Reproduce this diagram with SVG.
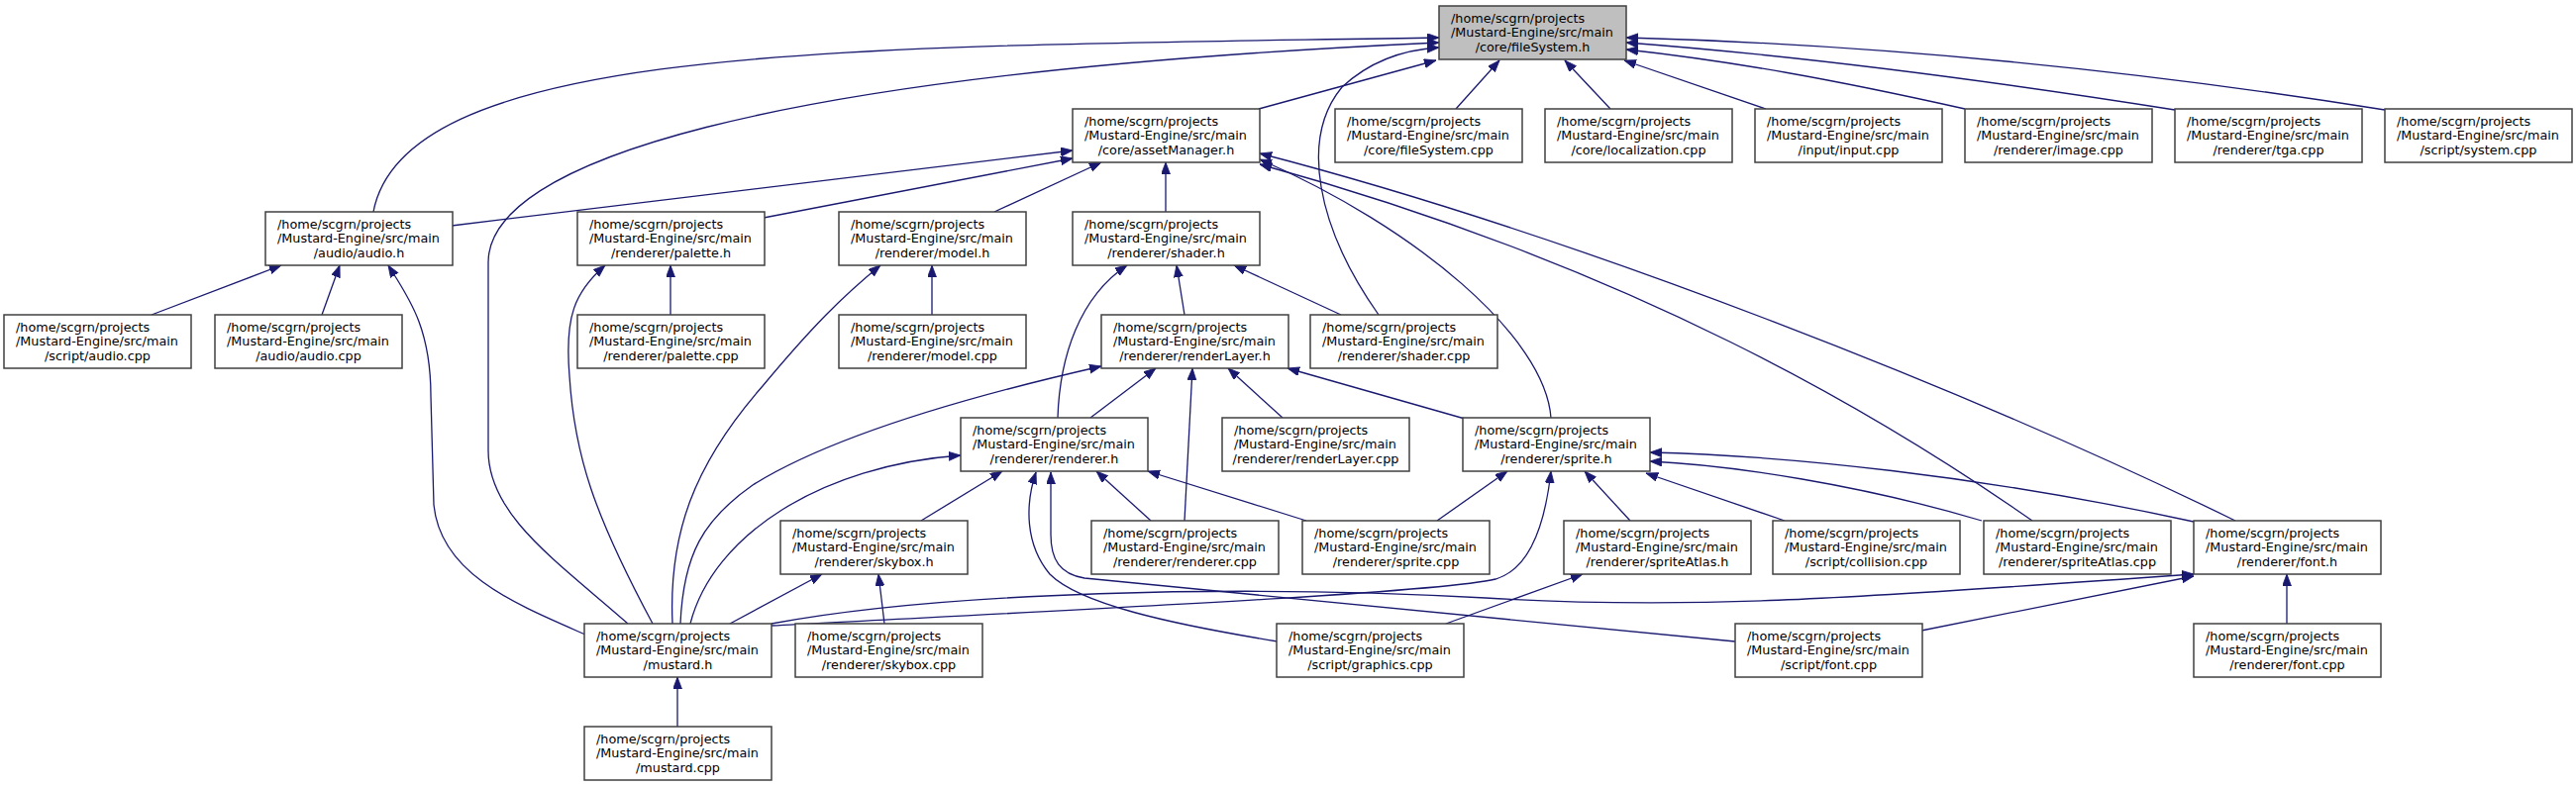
<svg xmlns="http://www.w3.org/2000/svg" width="2601" height="795" viewBox="0 0 2601 795">
<defs>
<marker id="a" markerUnits="userSpaceOnUse" markerWidth="13" markerHeight="10" refX="12" refY="4.5" orient="auto">
<path d="M0,0 L12,4.5 L0,9 z" fill="#191970" stroke="#191970" stroke-width="0.8"/>
</marker>
</defs>
<style>
.n rect{fill:#ffffff;stroke:#404040;stroke-width:1.5}
.n.h rect{fill:#bfbfbf}
.n text{font-family:"DejaVu Sans","Liberation Sans",sans-serif;font-size:12.8px;fill:#000}
.n text.c{text-anchor:middle}
.e path{fill:none;stroke:#191970;stroke-width:1.3}
</style>
<rect width="2601" height="795" fill="#ffffff"/>
<g id="edges" class="e" marker-end="url(#a)">
<path d="M377,214 C410,40 880,48 1453,38"/>
<path d="M634,630 C560,565 493,520 493,455 L493,265 C493,165 760,75 1453,43"/>
<path d="M1271,110 L1450,61"/>
<path d="M1392,318 C1330,230 1312,140 1355,88 C1385,60 1420,50 1453,48"/>
<path d="M1470,110 L1514,61"/>
<path d="M1626,110 L1580,61"/>
<path d="M1783,110 L1640,61"/>
<path d="M1984,110 C1850,80 1750,62 1642,50"/>
<path d="M2196,111 C2000,80 1800,55 1642,43"/>
<path d="M2408,111 C2150,70 1900,45 1642,38"/>
<path d="M456,228 L1083,152"/>
<path d="M771,220 L1083,160"/>
<path d="M1004,214 L1112,164"/>
<path d="M1177,214 L1177,164"/>
<path d="M1566,422 C1560,340 1430,230 1272,161"/>
<path d="M2052,526 C1900,420 1650,270 1272,166"/>
<path d="M2257,526 C2000,400 1600,240 1272,155"/>
<path d="M153,318 L284,268"/>
<path d="M325,318 L343,268"/>
<path d="M591,641 C520,610 445,580 438,510 L435,400 C435,330 412,300 392,268"/>
<path d="M677,318 L677,268"/>
<path d="M659,630 C600,520 580,460 575,380 C570,320 580,295 611,268"/>
<path d="M941,318 L941,268"/>
<path d="M679,630 C675,540 700,470 770,390 C820,330 850,300 889,268"/>
<path d="M1196,318 L1188,268"/>
<path d="M1354,318 L1246,268"/>
<path d="M1068,422 C1070,360 1090,300 1138,268"/>
<path d="M1101,422 L1167,372"/>
<path d="M1196,526 L1204,372"/>
<path d="M1295,422 L1240,372"/>
<path d="M1479,423 L1300,372"/>
<path d="M687,630 C690,560 710,525 760,490 C840,440 980,400 1112,370"/>
<path d="M930,526 L1012,476"/>
<path d="M697,630 C720,540 830,470 970,460"/>
<path d="M1162,526 L1107,476"/>
<path d="M1319,526 L1159,476"/>
<path d="M1290,648 C1180,630 1090,610 1060,580 C1035,550 1035,510 1046,477"/>
<path d="M1752,648 L1095,584 C1070,580 1061,565 1061,540 L1061,477"/>
<path d="M737,630 L830,580"/>
<path d="M893,630 L887,580"/>
<path d="M779,632 C1000,620 1450,600 1510,585 C1545,575 1560,530 1566,476"/>
<path d="M779,630 C950,598 1250,590 1500,604 C1700,616 1850,606 2215,580"/>
<path d="M1646,526 L1600,476"/>
<path d="M1802,526 L1662,478"/>
<path d="M2001,526 C1880,490 1750,470 1666,466"/>
<path d="M2215,527 C2000,480 1800,460 1666,457"/>
<path d="M1451,526 L1522,476"/>
<path d="M1460,630 L1598,580"/>
<path d="M1940,637 L2215,582"/>
<path d="M2309,630 L2309,580"/>
<path d="M684,734 L684,684"/>
</g>
<g id="n_fs_h" class="n h"><rect x="1453" y="6" width="189" height="54"/><text x="1465" y="22.5">/home/scgrn/projects</text><text x="1465" y="37">/Mustard-Engine/src/main</text><text class="c" x="1547.5" y="51.5">/core/fileSystem.h</text></g>
<g id="n_asset" class="n"><rect x="1083" y="110" width="189" height="54"/><text x="1095" y="126.5">/home/scgrn/projects</text><text x="1095" y="141">/Mustard-Engine/src/main</text><text class="c" x="1177.5" y="155.5">/core/assetManager.h</text></g>
<g id="n_fs_cpp" class="n"><rect x="1348" y="110" width="189" height="54"/><text x="1360" y="126.5">/home/scgrn/projects</text><text x="1360" y="141">/Mustard-Engine/src/main</text><text class="c" x="1442.5" y="155.5">/core/fileSystem.cpp</text></g>
<g id="n_loc" class="n"><rect x="1560" y="110" width="189" height="54"/><text x="1572" y="126.5">/home/scgrn/projects</text><text x="1572" y="141">/Mustard-Engine/src/main</text><text class="c" x="1654.5" y="155.5">/core/localization.cpp</text></g>
<g id="n_input" class="n"><rect x="1772" y="110" width="189" height="54"/><text x="1784" y="126.5">/home/scgrn/projects</text><text x="1784" y="141">/Mustard-Engine/src/main</text><text class="c" x="1866.5" y="155.5">/input/input.cpp</text></g>
<g id="n_image" class="n"><rect x="1984" y="110" width="189" height="54"/><text x="1996" y="126.5">/home/scgrn/projects</text><text x="1996" y="141">/Mustard-Engine/src/main</text><text class="c" x="2078.5" y="155.5">/renderer/image.cpp</text></g>
<g id="n_tga" class="n"><rect x="2196" y="110" width="189" height="54"/><text x="2208" y="126.5">/home/scgrn/projects</text><text x="2208" y="141">/Mustard-Engine/src/main</text><text class="c" x="2290.5" y="155.5">/renderer/tga.cpp</text></g>
<g id="n_system" class="n"><rect x="2408" y="110" width="189" height="54"/><text x="2420" y="126.5">/home/scgrn/projects</text><text x="2420" y="141">/Mustard-Engine/src/main</text><text class="c" x="2502.5" y="155.5">/script/system.cpp</text></g>
<g id="n_audio_h" class="n"><rect x="268" y="214" width="189" height="54"/><text x="280" y="230.5">/home/scgrn/projects</text><text x="280" y="245">/Mustard-Engine/src/main</text><text class="c" x="362.5" y="259.5">/audio/audio.h</text></g>
<g id="n_palette_h" class="n"><rect x="583" y="214" width="189" height="54"/><text x="595" y="230.5">/home/scgrn/projects</text><text x="595" y="245">/Mustard-Engine/src/main</text><text class="c" x="677.5" y="259.5">/renderer/palette.h</text></g>
<g id="n_model_h" class="n"><rect x="847" y="214" width="189" height="54"/><text x="859" y="230.5">/home/scgrn/projects</text><text x="859" y="245">/Mustard-Engine/src/main</text><text class="c" x="941.5" y="259.5">/renderer/model.h</text></g>
<g id="n_shader_h" class="n"><rect x="1083" y="214" width="189" height="54"/><text x="1095" y="230.5">/home/scgrn/projects</text><text x="1095" y="245">/Mustard-Engine/src/main</text><text class="c" x="1177.5" y="259.5">/renderer/shader.h</text></g>
<g id="n_saudio" class="n"><rect x="4" y="318" width="189" height="54"/><text x="16" y="334.5">/home/scgrn/projects</text><text x="16" y="349">/Mustard-Engine/src/main</text><text class="c" x="98.5" y="363.5">/script/audio.cpp</text></g>
<g id="n_audio_cpp" class="n"><rect x="217" y="318" width="189" height="54"/><text x="229" y="334.5">/home/scgrn/projects</text><text x="229" y="349">/Mustard-Engine/src/main</text><text class="c" x="311.5" y="363.5">/audio/audio.cpp</text></g>
<g id="n_palette_cpp" class="n"><rect x="583" y="318" width="189" height="54"/><text x="595" y="334.5">/home/scgrn/projects</text><text x="595" y="349">/Mustard-Engine/src/main</text><text class="c" x="677.5" y="363.5">/renderer/palette.cpp</text></g>
<g id="n_model_cpp" class="n"><rect x="847" y="318" width="189" height="54"/><text x="859" y="334.5">/home/scgrn/projects</text><text x="859" y="349">/Mustard-Engine/src/main</text><text class="c" x="941.5" y="363.5">/renderer/model.cpp</text></g>
<g id="n_rl_h" class="n"><rect x="1112" y="318" width="189" height="54"/><text x="1124" y="334.5">/home/scgrn/projects</text><text x="1124" y="349">/Mustard-Engine/src/main</text><text class="c" x="1206.5" y="363.5">/renderer/renderLayer.h</text></g>
<g id="n_shader_cpp" class="n"><rect x="1323" y="318" width="189" height="54"/><text x="1335" y="334.5">/home/scgrn/projects</text><text x="1335" y="349">/Mustard-Engine/src/main</text><text class="c" x="1417.5" y="363.5">/renderer/shader.cpp</text></g>
<g id="n_renderer_h" class="n"><rect x="970" y="422" width="189" height="54"/><text x="982" y="438.5">/home/scgrn/projects</text><text x="982" y="453">/Mustard-Engine/src/main</text><text class="c" x="1064.5" y="467.5">/renderer/renderer.h</text></g>
<g id="n_rl_cpp" class="n"><rect x="1234" y="422" width="189" height="54"/><text x="1246" y="438.5">/home/scgrn/projects</text><text x="1246" y="453">/Mustard-Engine/src/main</text><text class="c" x="1328.5" y="467.5">/renderer/renderLayer.cpp</text></g>
<g id="n_sprite_h" class="n"><rect x="1477" y="422" width="189" height="54"/><text x="1489" y="438.5">/home/scgrn/projects</text><text x="1489" y="453">/Mustard-Engine/src/main</text><text class="c" x="1571.5" y="467.5">/renderer/sprite.h</text></g>
<g id="n_skybox_h" class="n"><rect x="788" y="526" width="189" height="54"/><text x="800" y="542.5">/home/scgrn/projects</text><text x="800" y="557">/Mustard-Engine/src/main</text><text class="c" x="882.5" y="571.5">/renderer/skybox.h</text></g>
<g id="n_renderer_cpp" class="n"><rect x="1102" y="526" width="189" height="54"/><text x="1114" y="542.5">/home/scgrn/projects</text><text x="1114" y="557">/Mustard-Engine/src/main</text><text class="c" x="1196.5" y="571.5">/renderer/renderer.cpp</text></g>
<g id="n_sprite_cpp" class="n"><rect x="1315" y="526" width="189" height="54"/><text x="1327" y="542.5">/home/scgrn/projects</text><text x="1327" y="557">/Mustard-Engine/src/main</text><text class="c" x="1409.5" y="571.5">/renderer/sprite.cpp</text></g>
<g id="n_sa_h" class="n"><rect x="1579" y="526" width="189" height="54"/><text x="1591" y="542.5">/home/scgrn/projects</text><text x="1591" y="557">/Mustard-Engine/src/main</text><text class="c" x="1673.5" y="571.5">/renderer/spriteAtlas.h</text></g>
<g id="n_collision" class="n"><rect x="1790" y="526" width="189" height="54"/><text x="1802" y="542.5">/home/scgrn/projects</text><text x="1802" y="557">/Mustard-Engine/src/main</text><text class="c" x="1884.5" y="571.5">/script/collision.cpp</text></g>
<g id="n_sa_cpp" class="n"><rect x="2003" y="526" width="189" height="54"/><text x="2015" y="542.5">/home/scgrn/projects</text><text x="2015" y="557">/Mustard-Engine/src/main</text><text class="c" x="2097.5" y="571.5">/renderer/spriteAtlas.cpp</text></g>
<g id="n_font_h" class="n"><rect x="2215" y="526" width="189" height="54"/><text x="2227" y="542.5">/home/scgrn/projects</text><text x="2227" y="557">/Mustard-Engine/src/main</text><text class="c" x="2309.5" y="571.5">/renderer/font.h</text></g>
<g id="n_mustard_h" class="n"><rect x="590" y="630" width="189" height="54"/><text x="602" y="646.5">/home/scgrn/projects</text><text x="602" y="661">/Mustard-Engine/src/main</text><text class="c" x="684.5" y="675.5">/mustard.h</text></g>
<g id="n_skybox_cpp" class="n"><rect x="803" y="630" width="189" height="54"/><text x="815" y="646.5">/home/scgrn/projects</text><text x="815" y="661">/Mustard-Engine/src/main</text><text class="c" x="897.5" y="675.5">/renderer/skybox.cpp</text></g>
<g id="n_graphics" class="n"><rect x="1289" y="630" width="189" height="54"/><text x="1301" y="646.5">/home/scgrn/projects</text><text x="1301" y="661">/Mustard-Engine/src/main</text><text class="c" x="1383.5" y="675.5">/script/graphics.cpp</text></g>
<g id="n_sfont" class="n"><rect x="1752" y="630" width="189" height="54"/><text x="1764" y="646.5">/home/scgrn/projects</text><text x="1764" y="661">/Mustard-Engine/src/main</text><text class="c" x="1846.5" y="675.5">/script/font.cpp</text></g>
<g id="n_font_cpp" class="n"><rect x="2215" y="630" width="189" height="54"/><text x="2227" y="646.5">/home/scgrn/projects</text><text x="2227" y="661">/Mustard-Engine/src/main</text><text class="c" x="2309.5" y="675.5">/renderer/font.cpp</text></g>
<g id="n_mustard_cpp" class="n"><rect x="590" y="734" width="189" height="54"/><text x="602" y="750.5">/home/scgrn/projects</text><text x="602" y="765">/Mustard-Engine/src/main</text><text class="c" x="684.5" y="779.5">/mustard.cpp</text></g>
</svg>
